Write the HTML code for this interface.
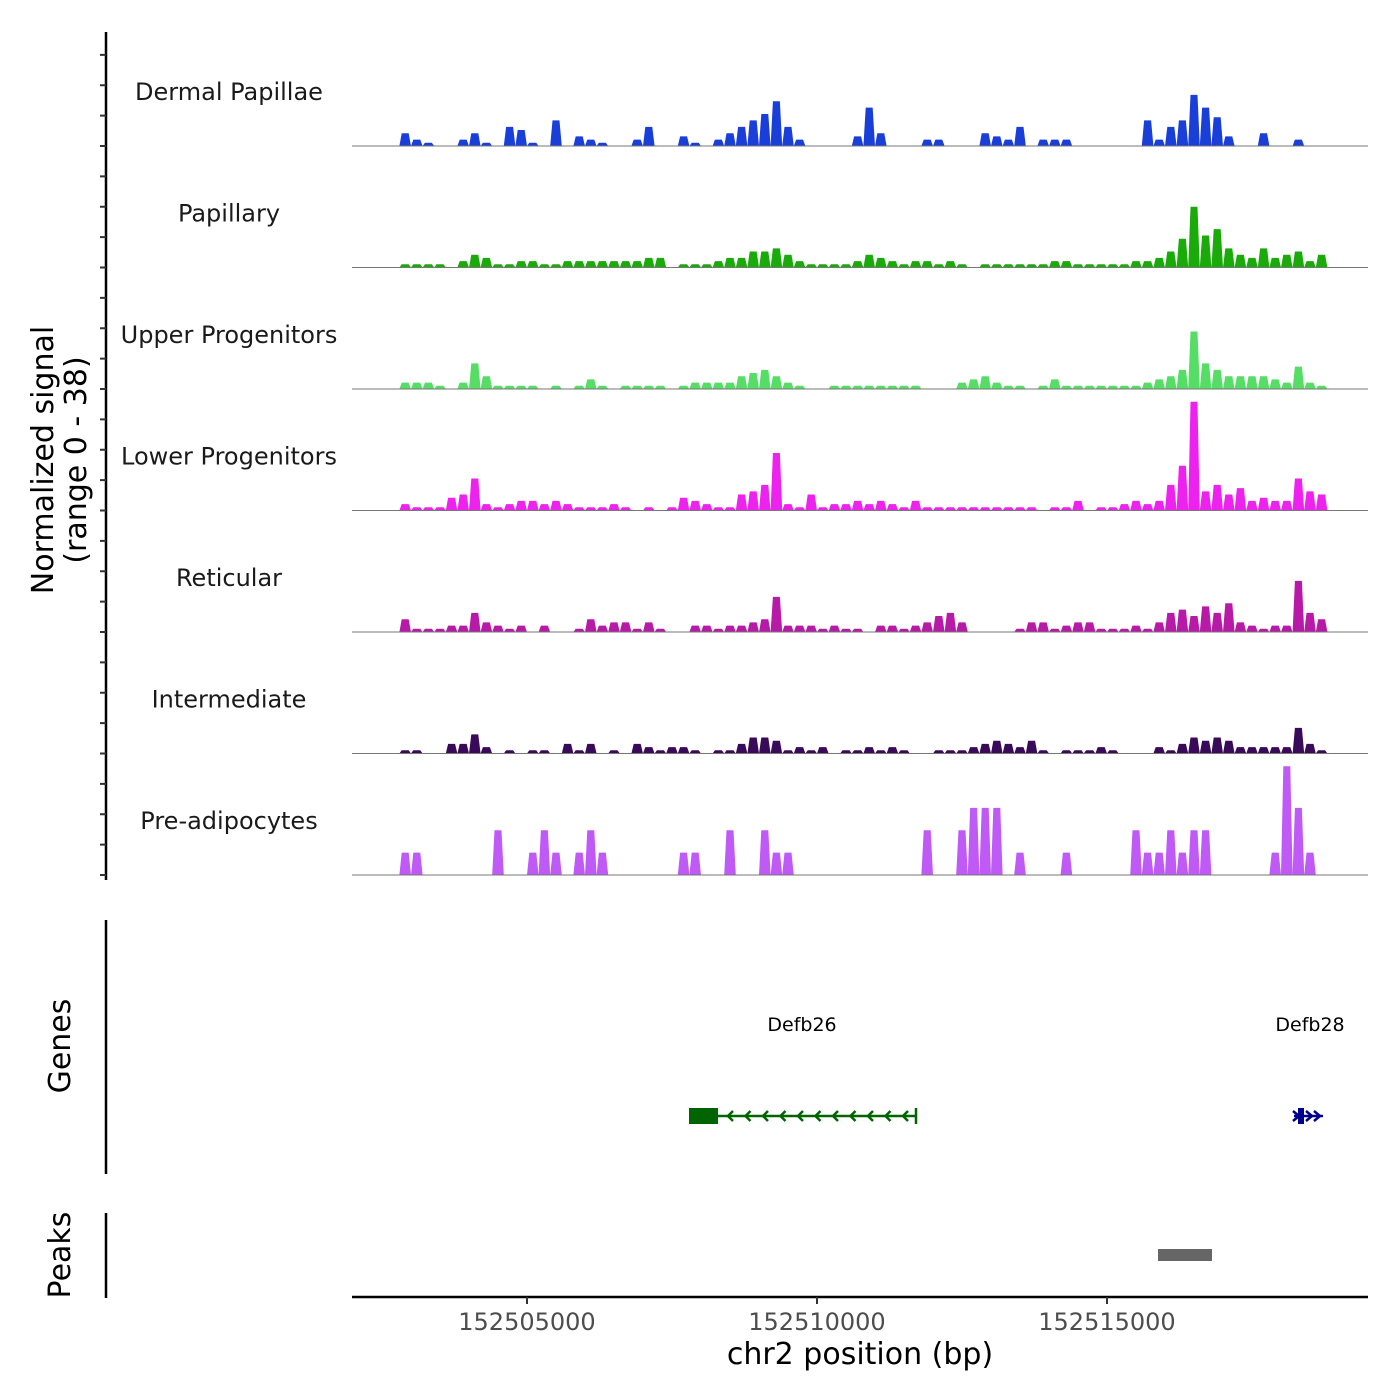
<!DOCTYPE html>
<html><head><meta charset="utf-8"><style>
body{margin:0;background:#fff;}
svg{display:block;font-family:"DejaVu Sans","Liberation Sans",sans-serif;}
</style></head><body>
<svg id="chart" width="1400" height="1400" viewBox="0 0 1400 1400" xmlns="http://www.w3.org/2000/svg">
<g id="tracks"></g>
<g id="yaxis"></g>
<text transform="translate(53,460) rotate(-90)" text-anchor="middle" font-size="30" fill="#000">Normalized signal</text>
<text transform="translate(86,460) rotate(-90)" text-anchor="middle" font-size="30" fill="#000">(range 0 - 38)</text>

<line x1="106" y1="920" x2="106" y2="1174" stroke="#000" stroke-width="2.5"/>
<text transform="translate(70,1046) rotate(-90)" text-anchor="middle" font-size="30">Genes</text>
<g>
<text x="802" y="1031" text-anchor="middle" font-size="19">Defb26</text>
<line x1="690" y1="1116" x2="916" y2="1116" stroke="#006400" stroke-width="2.5"/>
<rect x="689" y="1108" width="29" height="16" fill="#006400"/>
<line x1="916" y1="1108" x2="916" y2="1124" stroke="#006400" stroke-width="2.5"/>
<g id="chev26" fill="none" stroke="#006400" stroke-width="2.5"></g>
</g>
<g>
<text x="1310" y="1031" text-anchor="middle" font-size="19">Defb28</text>
<line x1="1294" y1="1116" x2="1323" y2="1116" stroke="#00008b" stroke-width="2.5"/>
<rect x="1298" y="1108" width="6" height="16" fill="#00008b"/>
<path d="M1306,1111 L1312,1116 L1306,1121 M1314,1111 L1320,1116 L1314,1121 M1293,1111 L1299,1116 L1293,1121" fill="none" stroke="#00008b" stroke-width="2.5"/>
</g>

<line x1="106" y1="1213" x2="106" y2="1298" stroke="#000" stroke-width="2.5"/>
<text transform="translate(70,1255) rotate(-90)" text-anchor="middle" font-size="30">Peaks</text>
<rect x="1158" y="1249" width="54" height="12" fill="#666"/>

<g id="xaxis"></g>
<text x="860" y="1364" text-anchor="middle" font-size="30">chr2 position (bp)</text>
</svg>
<script>
const trackNames = ["Dermal Papillae","Papillary","Upper Progenitors","Lower Progenitors","Reticular","Intermediate","Pre-adipocytes"];
const trackColors = ["#1a3fd9","#1aaa0a","#55dd66","#ee22ee","#b81aa8","#3a0a5a","#bf5af7"];
const binStart = 152502800;
const binSize = 200;
const xTicks = [152505000,152510000,152515000];
const sigDP  = [4,2,1,0,0,2,4,1,0,6,5,1,0,8,0,3,2,1,0,0,2,6,0,0,3,1,0,2,4,6,8,10,14,6,2,0,0,0,0,3,12,4,0,0,0,2,2,0,0,0,4,3,2,6,0,2,2,2,0,0,0,0,0,0,8,2,6,8,16,12,9,3,0,0,4,0,0,2,0,0];
const sigPap = [1,1,1,1,0,2,4,3,1,1,2,2,1,1,2,2,2,2,2,2,2,3,3,0,1,1,1,2,3,3,5,5,6,4,2,1,1,1,1,2,4,3,2,1,2,2,1,2,1,0,1,1,1,1,1,1,2,2,1,1,1,1,1,2,2,3,5,9,19,10,12,6,4,3,6,3,4,5,2,4];
const sigUP  = [2,2,2,1,0,2,8,4,1,1,1,1,0,1,0,1,3,1,0,1,1,1,1,0,1,2,2,2,2,4,5,6,4,2,1,0,0,1,1,1,1,1,1,1,1,0,0,0,2,3,4,2,1,1,0,1,3,1,1,1,1,1,1,1,2,3,4,6,18,8,6,4,4,4,4,3,2,7,2,1];
const sigLP  = [2,1,1,1,4,5,10,2,1,2,3,3,2,3,2,1,1,1,2,1,0,1,0,1,4,3,2,1,1,5,6,8,18,2,1,5,1,2,2,3,2,3,2,1,3,1,1,1,1,1,1,1,1,1,1,0,1,1,3,0,1,1,2,3,2,3,8,14,34,6,8,5,7,3,4,3,3,10,6,5];
const sigRet = [4,1,1,1,2,2,6,3,2,1,2,0,2,0,0,1,4,2,3,3,1,3,1,0,0,2,2,1,2,2,3,4,11,2,2,2,1,2,1,1,0,2,2,1,2,3,5,6,3,0,0,0,0,1,3,3,1,2,3,3,1,1,1,2,1,3,6,7,5,8,6,9,3,2,1,2,2,16,6,4];
const sigInt = [1,1,0,0,3,3,6,2,0,1,0,1,1,0,3,1,3,0,1,0,3,2,1,2,2,1,0,1,1,3,5,5,4,1,2,1,2,0,1,1,2,1,2,1,0,0,1,1,1,2,3,4,3,2,4,1,0,1,1,1,2,1,0,0,0,2,1,3,5,4,5,4,2,2,2,2,2,8,3,1];
const sigPre = [7,7,0,0,0,0,0,0,14,0,0,7,14,7,0,7,14,7,0,0,0,0,0,0,7,7,0,0,14,0,0,14,7,7,0,0,0,0,0,0,0,0,0,0,0,14,0,0,14,21,21,21,0,7,0,0,0,7,0,0,0,0,0,14,7,7,14,7,14,14,0,0,0,0,0,7,34,21,7,0];
const allSignals = [sigDP,sigPap,sigUP,sigLP,sigRet,sigInt,sigPre];
const yMax = 38;

const NS = "http://www.w3.org/2000/svg";
const xL = 352, xR = 1368, bpL = 152501983, bpR = 152519500;
const xs = bp => xL + (bp - bpL) / (bpR - bpL) * (xR - xL);
const trackTop = 24.5, trackH = 121.5;
const ys = (t, v) => trackTop + (t + 1) * trackH - v / yMax * trackH;

const tg = document.getElementById('tracks');
allSignals.forEach((sig, t) => {
  const g = document.createElementNS(NS, 'g');
  
  
  const base = ys(t, 0);
  let d = 'M' + xs(binStart) + ',' + base;
  sig.forEach((v, i) => {
    const x0 = xs(binStart + i * binSize), x1 = xs(binStart + (i + 1) * binSize);
    const y = ys(t, v);
    const w = (x1 - x0) * 0.2;
    d += ' L' + (x0 + w) + ',' + y + ' L' + (x1 - w) + ',' + y + ' L' + x1 + ',' + base;
  });
  d += ' Z';
  const p = document.createElementNS(NS, 'path');
  
  
  p.setAttribute('d', d);
  p.setAttribute('fill', trackColors[t]);
  g.appendChild(p);
  const bl = document.createElementNS(NS, 'line');
  
  
  bl.setAttribute('x1', xL); bl.setAttribute('x2', xR);
  bl.setAttribute('y1', base); bl.setAttribute('y2', base);
  bl.setAttribute('stroke', '#777'); bl.setAttribute('stroke-width', '1');
  g.appendChild(bl);
  const lab = document.createElementNS(NS, 'text');
  
  
  lab.setAttribute('x', 229); lab.setAttribute('y', base - 46);
  lab.setAttribute('text-anchor', 'middle'); lab.setAttribute('font-size', '24');
  lab.setAttribute('fill', '#1a1a1a');
  lab.textContent = trackNames[t];
  g.appendChild(lab);
  tg.appendChild(g);
});

const ya = document.getElementById('yaxis');
const al = document.createElementNS(NS, 'line');


al.setAttribute('x1', 106); al.setAttribute('x2', 106);
al.setAttribute('y1', 32); al.setAttribute('y2', 880);
al.setAttribute('stroke', '#000'); al.setAttribute('stroke-width', '2.5');
ya.appendChild(al);
for (let t = 0; t < 7; t++) {
  for (let k = 0; k < 4; k++) {
    const y = ys(t, 0) - k * trackH / 4;
    const tk = document.createElementNS(NS, 'line');
    
    
    tk.setAttribute('x1', 100); tk.setAttribute('x2', 106);
    tk.setAttribute('y1', y); tk.setAttribute('y2', y);
    tk.setAttribute('stroke', '#333'); tk.setAttribute('stroke-width', '2');
    ya.appendChild(tk);
  }
}

const ch = document.getElementById('chev26');
for (let i = 0; i < 11; i++) {
  const x = 728 + i * 17.5;
  const c = document.createElementNS(NS, 'path');
  
  
  c.setAttribute('d', 'M' + (x + 5) + ',1111 L' + x + ',1116 L' + (x + 5) + ',1121');
  ch.appendChild(c);
}

const xa = document.getElementById('xaxis');
const xl = document.createElementNS(NS, 'line');


xl.setAttribute('x1', xL); xl.setAttribute('x2', xR);
xl.setAttribute('y1', 1297); xl.setAttribute('y2', 1297);
xl.setAttribute('stroke', '#000'); xl.setAttribute('stroke-width', '2.5');
xa.appendChild(xl);
xTicks.forEach(v => {
  const x = xs(v);
  const tk = document.createElementNS(NS, 'line');
  
  
  tk.setAttribute('x1', x); tk.setAttribute('x2', x);
  tk.setAttribute('y1', 1297); tk.setAttribute('y2', 1304);
  tk.setAttribute('stroke', '#333'); tk.setAttribute('stroke-width', '2');
  xa.appendChild(tk);
  const lb = document.createElementNS(NS, 'text');
  
  
  lb.setAttribute('x', x); lb.setAttribute('y', 1330);
  lb.setAttribute('text-anchor', 'middle'); lb.setAttribute('font-size', '24');
  lb.setAttribute('fill', '#4d4d4d');
  lb.textContent = String(v);
  xa.appendChild(lb);
});
</script>
</body></html>
